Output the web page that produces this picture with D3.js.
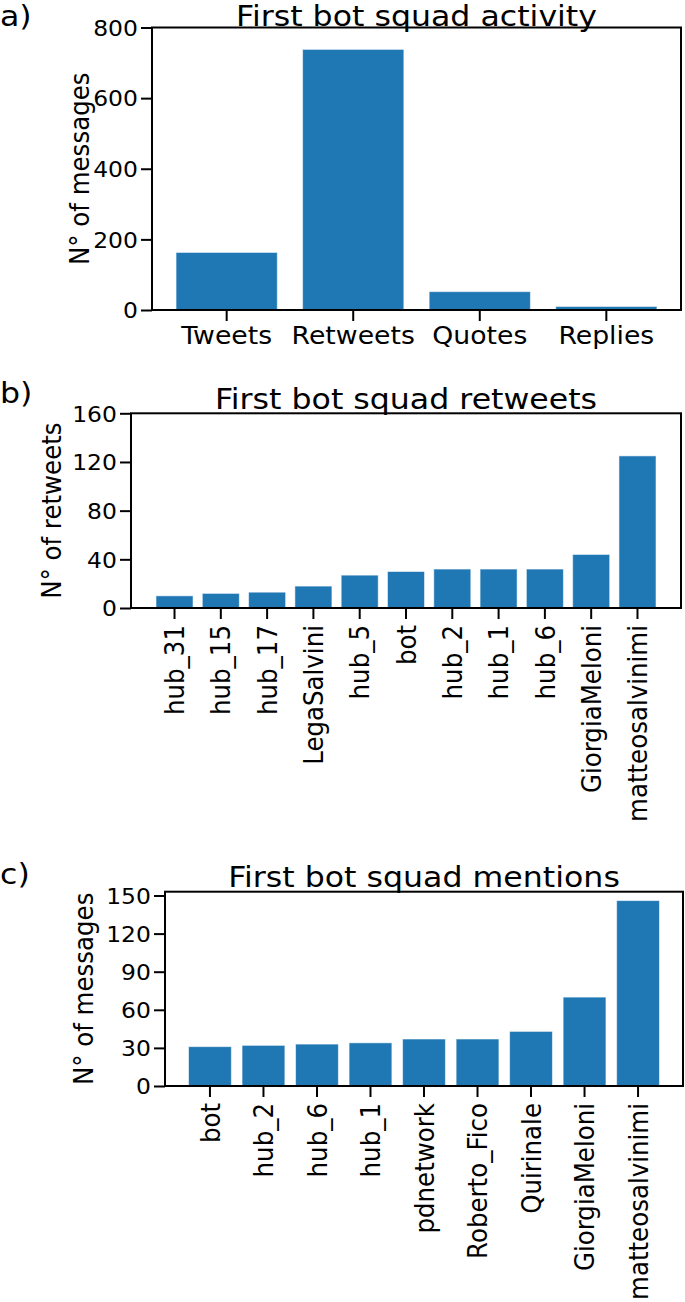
<!DOCTYPE html>
<html>
<head>
<meta charset="utf-8">
<script src="https://cdn.jsdelivr.net/npm/d3@7"></script>
<style>
  html, body { margin: 0; padding: 0; background: #fff; }
  svg { display: block; }
  text { font-family: "DejaVu Sans", sans-serif; fill: #000; }
</style>
</head>
<body>
<svg id="chart" width="685" height="1302"></svg>
<script>
// ---- Data ----
const activityCategories = ["Tweets", "Retweets", "Quotes", "Replies"];
const activityValues = [163, 738, 52, 10];
const activityTicks = [0, 200, 400, 600, 800];

const retweetCategories = ["hub_31", "hub_15", "hub_17", "LegaSalvini", "hub_5", "bot", "hub_2", "hub_1", "hub_6", "GiorgiaMeloni", "matteosalvinimi"];
const retweetValues = [10, 12, 13, 18, 27, 30, 32, 32, 32, 44, 125];
const retweetTicks = [0, 40, 80, 120, 160];

const mentionCategories = ["bot", "hub_2", "hub_6", "hub_1", "pdnetwork", "Roberto_Fico", "Quirinale", "GiorgiaMeloni", "matteosalvinimi"];
const mentionValues = [31, 32, 33, 34, 37, 37, 43, 70, 146];
const mentionTicks = [0, 30, 60, 90, 120, 150];

// ---- Drawing ----
const svg = d3.select("#chart");
svg.append("rect").attr("width", 685).attr("height", 1302).attr("fill", "#fff");

const BAR = "#1f77b4";
const TICK_LEN = 11;
const SX = 1.09; // horizontal stretch of the reference's type

function panel(cfg) {
  const n = cfg.cats.length;
  const x = d3.scaleBand()
    .domain(cfg.cats)
    .range([cfg.left, cfg.right])
    .paddingInner(0.2)
    .paddingOuter(0.05 * (n - 0.2));
  const y = d3.scaleLinear().domain([0, cfg.ymax]).range([cfg.bottom, cfg.top]);

  const g = svg.append("g");

  // bars
  g.selectAll("rect.bar").data(cfg.vals).enter().append("rect")
    .attr("class", "bar")
    .attr("x", (d, i) => x(cfg.cats[i]))
    .attr("width", x.bandwidth())
    .attr("y", d => y(d))
    .attr("height", d => y(0) - y(d))
    .attr("fill", BAR)
    .attr("stroke", "rgba(255,255,255,0.55)")
    .attr("stroke-width", 1);

  // y axis
  const ya = g.append("g")
    .attr("transform", `translate(${cfg.left},0)`)
    .call(d3.axisLeft(y).tickValues(cfg.ticks).tickSize(TICK_LEN).tickPadding(2).tickFormat(d3.format("d")));
  ya.select(".domain").remove();
  ya.selectAll(".tick line").attr("stroke", "#000").attr("stroke-width", 2);
  ya.selectAll(".tick text").style("font-size", cfg.tickFont + "px").attr("dy", "0.36em")
    .attr("transform", `scale(${SX},1)`);

  // x axis
  const xa = g.append("g")
    .attr("transform", `translate(0,${cfg.bottom})`)
    .call(d3.axisBottom(x).tickSize(TICK_LEN).tickPadding(5));
  xa.select(".domain").remove();
  xa.selectAll(".tick line").attr("stroke", "#000").attr("stroke-width", 2);
  const xt = xa.selectAll(".tick text").style("font-size", cfg.xFont + "px");
  if (cfg.rotate) {
    xt.attr("x", 0).attr("y", 0).attr("dy", "0.36em")
      .attr("text-anchor", "end")
      .attr("transform", `translate(0,${TICK_LEN + 6}) scale(${SX},1) rotate(-90)`);
  } else {
    xt.attr("y", TICK_LEN + 4).attr("dy", "0.76em")
      .attr("transform", `scale(${SX},1)`);
  }

  // frame
  g.append("rect")
    .attr("x", cfg.left).attr("y", cfg.top)
    .attr("width", cfg.right - cfg.left).attr("height", cfg.bottom - cfg.top)
    .attr("fill", "none").attr("stroke", "#000").attr("stroke-width", 2);

  // title
  g.append("text")
    .attr("transform", `translate(${(cfg.left + cfg.right) / 2},${cfg.titleY}) scale(${SX},1)`)
    .attr("text-anchor", "middle")
    .style("font-size", "29px")
    .text(cfg.title);

  // panel letter
  g.append("text")
    .attr("transform", `translate(0,${cfg.letterY}) scale(${SX},1)`)
    .style("font-size", "29px")
    .text(cfg.letter);

  // y label
  g.append("text")
    .attr("transform", `translate(${cfg.ylabelX},${(cfg.top + cfg.bottom) / 2}) scale(${SX},1) rotate(-90)`)
    .attr("text-anchor", "middle")
    .attr("dy", "0.36em")
    .style("font-size", "24.5px")
    .text(cfg.ylabel);
}

panel({
  cats: activityCategories, vals: activityValues, ticks: activityTicks, ymax: 800,
  left: 152, right: 681, top: 27.5, bottom: 310,
  title: "First bot squad activity", titleY: 26, letter: "a)", letterY: 26,
  ylabel: "N\u00B0 of messages", ylabelX: 79, rotate: false, tickFont: 21.5, xFont: 24.5
});

panel({
  cats: retweetCategories, vals: retweetValues, ticks: retweetTicks, ymax: 160,
  left: 131, right: 681, top: 413.3, bottom: 608,
  title: "First bot squad retweets", titleY: 409, letter: "b)", letterY: 403,
  ylabel: "N\u00B0 of retweets", ylabelX: 51, rotate: true, tickFont: 21.5, xFont: 24.5
});

panel({
  cats: mentionCategories, vals: mentionValues, ticks: mentionTicks, ymax: 153,
  left: 165, right: 683, top: 891.7, bottom: 1086,
  title: "First bot squad mentions", titleY: 887, letter: "c)", letterY: 884,
  ylabel: "N\u00B0 of messages", ylabelX: 83, rotate: true, tickFont: 21.5, xFont: 24.5
});
</script>
</body>
</html>
